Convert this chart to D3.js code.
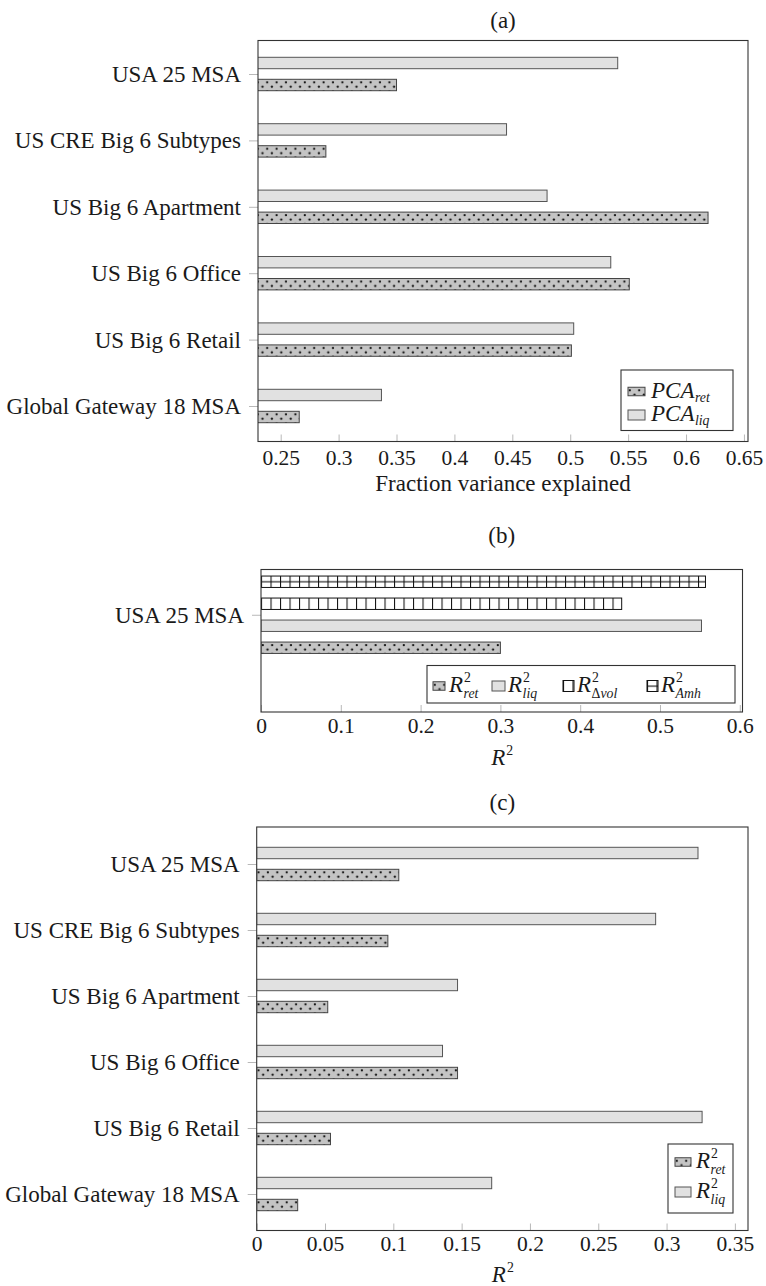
<!DOCTYPE html>
<html>
<head>
<meta charset="utf-8">
<script src="https://cdn.jsdelivr.net/npm/d3@7"></script>
<style>
  body { margin: 0; background: #fff; }
  svg { display: block; }
  text { font-family: "Liberation Serif", "Times New Roman", serif; fill: #1a1a1a; }
</style>
</head>
<body>
<svg id="chart" width="766" height="1286"></svg>
<script>
// ---- data -------------------------------------------------------------
const categoriesA = ["USA 25 MSA", "US CRE Big 6 Subtypes", "US Big 6 Apartment",
                     "US Big 6 Office", "US Big 6 Retail", "Global Gateway 18 MSA"];
const pcaRet = [0.350, 0.289, 0.619, 0.551, 0.501, 0.266];
const pcaLiq = [0.541, 0.445, 0.480, 0.535, 0.503, 0.337];
const ticksA = [0.25, 0.3, 0.35, 0.4, 0.45, 0.5, 0.55, 0.6, 0.65];

const categoriesB = ["USA 25 MSA"];
const r2RetB = [0.300];
const r2LiqB = [0.552];
const r2DvolB = [0.452];
const r2AmhB = [0.557];
const ticksB = [0, 0.1, 0.2, 0.3, 0.4, 0.5, 0.6];

const categoriesC = ["USA 25 MSA", "US CRE Big 6 Subtypes", "US Big 6 Apartment",
                     "US Big 6 Office", "US Big 6 Retail", "Global Gateway 18 MSA"];
const r2RetC = [0.104, 0.096, 0.052, 0.147, 0.054, 0.030];
const r2LiqC = [0.323, 0.292, 0.147, 0.136, 0.326, 0.172];
const ticksC = [0, 0.05, 0.1, 0.15, 0.2, 0.25, 0.3, 0.35];

// ---- setup ------------------------------------------------------------
const svg = d3.select("#chart");
const FS = 23;            // labels, titles, legends
const FS_TICK = 21.5;     // tick labels
const BAR_H = 11.4;       // bar thickness
const fmt = d => String(+d.toFixed(2));

const defs = svg.append("defs");
// dotted grey fill
const pDots = defs.append("pattern").attr("id", "pDots")
  .attr("patternUnits", "userSpaceOnUse").attr("width", 9.4).attr("height", 8.8);
pDots.append("rect").attr("width", 9.4).attr("height", 8.8).attr("fill", "#c4c4c4");
pDots.append("circle").attr("cx", 1.8).attr("cy", 3.0).attr("r", 1.15).attr("fill", "#111");
pDots.append("circle").attr("cx", 6.5).attr("cy", 7.4).attr("r", 1.15).attr("fill", "#111");
// vertical lines
const pVert = defs.append("pattern").attr("id", "pVert")
  .attr("patternUnits", "userSpaceOnUse").attr("width", 9.5).attr("height", 20);
pVert.append("rect").attr("width", 9.5).attr("height", 20).attr("fill", "#fff");
pVert.append("line").attr("x1", 0.5).attr("x2", 0.5).attr("y1", 0).attr("y2", 20)
  .attr("stroke", "#111").attr("stroke-width", 1.1);
// grid
const pGrid = defs.append("pattern").attr("id", "pGrid")
  .attr("patternUnits", "userSpaceOnUse").attr("width", 9.5).attr("height", BAR_H);
pGrid.append("rect").attr("width", 9.5).attr("height", BAR_H).attr("fill", "#fff");
pGrid.append("line").attr("x1", 0.5).attr("x2", 0.5).attr("y1", 0).attr("y2", BAR_H)
  .attr("stroke", "#111").attr("stroke-width", 1.1);
pGrid.append("line").attr("x1", 0).attr("x2", 9.5).attr("y1", BAR_H / 2).attr("y2", BAR_H / 2)
  .attr("stroke", "#111").attr("stroke-width", 1.1);

const styles = {
  ret:  { fill: "url(#pDots)", stroke: "#444" },
  liq:  { fill: "#e1e1e1",     stroke: "#555" },
  dvol: { fill: "url(#pVert)", stroke: "#111" },
  amh:  { fill: "url(#pGrid)", stroke: "#111" }
};

// a rectangle whose pattern starts at its own top-left corner
function patchRect(parent, x0, y0, w, h, st) {
  const g = parent.append("g").attr("transform", `translate(${x0},${y0})`);
  g.append("rect").attr("x", 0).attr("y", 0).attr("width", Math.max(0, w)).attr("height", h)
    .attr("fill", st.fill).attr("stroke", st.stroke).attr("stroke-width", 1);
  return g;
}

// math-style label in a single text element: italic base, then a
// superscript and a subscript stacked at the same horizontal position
function mathLabel(parent, x, y, base, sup, sub, size, anchor) {
  const small = size * 0.6;
  const supUp = size * 0.42, subDown = size * 0.27;
  const t = parent.append("text").attr("x", x).attr("y", y).style("font-size", size + "px");
  t.append("tspan").style("font-style", "italic").text(base);
  let supW = 0;
  if (sup) {
    const s = t.append("tspan").attr("dx", 1).attr("dy", -supUp).style("font-size", small + "px").text(sup);
    supW = s.node().getComputedTextLength() + 1;
  }
  if (sub) {
    const dy = sup ? supUp + subDown : size * 0.18;
    sub.forEach((seg, k) => {
      const sp = t.append("tspan").style("font-size", small + "px")
        .style("font-style", seg.i ? "italic" : "normal").text(seg.t);
      if (k === 0) sp.attr("dx", sup ? -supW + 0.5 : 0.5).attr("dy", dy);
    });
  }
  const total = t.node().getComputedTextLength();
  const dx = anchor === "middle" ? -total / 2 : anchor === "end" ? -total : 0;
  t.attr("x", x + dx);
  return total;
}

// ---- one horizontal bar panel ----------------------------------------
function panel(cfg) {
  const g = svg.append("g");
  const x = d3.scaleLinear().domain(cfg.domain).range([cfg.left, cfg.right]);
  const y = d3.scalePoint().domain(cfg.categories).range(cfg.catRange);

  // title
  g.append("text").attr("x", (cfg.left + cfg.right) / 2).attr("y", cfg.titleY)
    .attr("text-anchor", "middle").style("font-size", FS + "px").text(cfg.title);

  // bars
  const clipId = "clip" + cfg.title.replace(/[()]/g, "");
  defs.append("clipPath").attr("id", clipId).append("rect")
    .attr("x", cfg.left).attr("y", cfg.top).attr("width", cfg.right - cfg.left).attr("height", cfg.bottom - cfg.top);
  const bars = g.append("g").attr("clip-path", `url(#${clipId})`);
  const x0 = x(Math.max(0, cfg.domain[0])) - (cfg.domain[0] > 0 ? 2 : 0);
  cfg.series.forEach(s => {
    cfg.categories.forEach((c, i) => {
      const yc = y(c) + s.off;
      patchRect(bars, x0, yc - BAR_H / 2, x(s.values[i]) - x0, BAR_H, styles[s.key]);
    });
  });

  // x axis (ticks pointing into the plot)
  const xAxis = g.append("g").attr("transform", `translate(0,${cfg.bottom})`)
    .call(d3.axisBottom(x).tickValues(cfg.ticks).tickFormat(fmt).tickSizeInner(-7).tickSizeOuter(0));
  xAxis.select(".domain").remove();
  xAxis.selectAll(".tick line").attr("stroke", "#b8b8b8");
  xAxis.selectAll(".tick text").attr("y", cfg.tickLabelY - cfg.bottom).attr("dy", 0)
    .style("font-size", FS_TICK + "px").style("font-family", null).attr("fill", "#1a1a1a");

  // y axis (category labels)
  const yAxis = g.append("g").attr("transform", `translate(${cfg.left},0)`)
    .call(d3.axisLeft(y).tickSize(9).tickPadding(8));
  yAxis.select(".domain").remove();
  yAxis.selectAll(".tick line").attr("stroke", "#b8b8b8");
  yAxis.selectAll(".tick text").attr("dy", "0.33em")
    .style("font-size", FS + "px").style("font-family", null).attr("fill", "#1a1a1a");

  // frame
  g.append("rect").attr("x", cfg.left).attr("y", cfg.top)
    .attr("width", cfg.right - cfg.left).attr("height", cfg.bottom - cfg.top)
    .attr("fill", "none").attr("stroke", "#333").attr("stroke-width", 1.1);

  // axis label
  const cx = (cfg.left + cfg.right) / 2;
  if (cfg.xlabel === "R2") {
    mathLabel(g, cx, cfg.xlabelY, "R", "2", null, FS, "middle");
  } else {
    g.append("text").attr("x", cx).attr("y", cfg.xlabelY).attr("text-anchor", "middle")
      .style("font-size", FS + "px").text(cfg.xlabel);
  }

  // legend
  const L = cfg.legend;
  g.append("rect").attr("x", L.x0).attr("y", L.y0).attr("width", L.x1 - L.x0).attr("height", L.y1 - L.y0)
    .attr("fill", "#fff").attr("stroke", "#333").attr("stroke-width", 1.1);
  L.items.forEach(it => {
    patchRect(g, it.sx, it.cy - it.sh / 2, it.sw, it.sh, styles[it.key]);
    mathLabel(g, it.tx, it.cy + 6, it.base, it.sup, it.sub, FS, "start");
  });
}

// ---- (a) --------------------------------------------------------------
panel({
  title: "(a)", titleY: 28,
  left: 258, right: 748, top: 40.5, bottom: 441.5,
  domain: [0.2304, 0.6535], ticks: ticksA, tickLabelY: 465,
  categories: categoriesA, catRange: [74, 406],
  series: [{ key: "liq", values: pcaLiq, off: -11 }, { key: "ret", values: pcaRet, off: 11 }],
  xlabel: "Fraction variance explained", xlabelY: 491,
  legend: { x0: 621, y0: 370, x1: 733, y1: 430.5, items: [
    { key: "ret", sx: 628, sw: 17, sh: 8.5, cy: 391.5, tx: 651, base: "PCA", sub: [{ t: "ret", i: true }] },
    { key: "liq", sx: 628, sw: 17, sh: 10, cy: 415, tx: 651, base: "PCA", sub: [{ t: "liq", i: true }] }
  ] }
});

// ---- (b) --------------------------------------------------------------
panel({
  title: "(b)", titleY: 543,
  left: 261, right: 742.5, top: 569.5, bottom: 712,
  domain: [0, 0.6034], ticks: ticksB, tickLabelY: 733,
  categories: categoriesB, catRange: [614.75, 614.75],
  series: [
    { key: "amh", values: r2AmhB, off: -33 },
    { key: "dvol", values: r2DvolB, off: -11 },
    { key: "liq", values: r2LiqB, off: 11 },
    { key: "ret", values: r2RetB, off: 33 }
  ],
  xlabel: "R2", xlabelY: 765,
  legend: { x0: 427, y0: 665.5, x1: 735, y1: 703, items: [
    { key: "ret",  sx: 433, sw: 12, sh: 8.5, cy: 686, tx: 449, base: "R", sup: "2", sub: [{ t: "ret", i: true }] },
    { key: "liq",  sx: 492, sw: 13, sh: 10, cy: 686, tx: 508, base: "R", sup: "2", sub: [{ t: "liq", i: true }] },
    { key: "dvol", sx: 563, sw: 11, sh: 11, cy: 686, tx: 577, base: "R", sup: "2", sub: [{ t: "Δ", i: false }, { t: "vol", i: true }] },
    { key: "amh",  sx: 647, sw: 11, sh: 11, cy: 686, tx: 661, base: "R", sup: "2", sub: [{ t: "Amh", i: true }] }
  ] }
});

// ---- (c) --------------------------------------------------------------
panel({
  title: "(c)", titleY: 810,
  left: 256.7, right: 748, top: 827, bottom: 1230.5,
  domain: [0, 0.3596], ticks: ticksC, tickLabelY: 1251,
  categories: categoriesC, catRange: [864, 1194],
  series: [{ key: "liq", values: r2LiqC, off: -11 }, { key: "ret", values: r2RetC, off: 11 }],
  xlabel: "R2", xlabelY: 1282,
  legend: { x0: 668, y0: 1144, x1: 733, y1: 1213, items: [
    { key: "ret", sx: 675, sw: 16, sh: 8.5, cy: 1162, tx: 696, base: "R", sup: "2", sub: [{ t: "ret", i: true }] },
    { key: "liq", sx: 675, sw: 16, sh: 10, cy: 1192, tx: 696, base: "R", sup: "2", sub: [{ t: "liq", i: true }] }
  ] }
});
</script>
</body>
</html>
